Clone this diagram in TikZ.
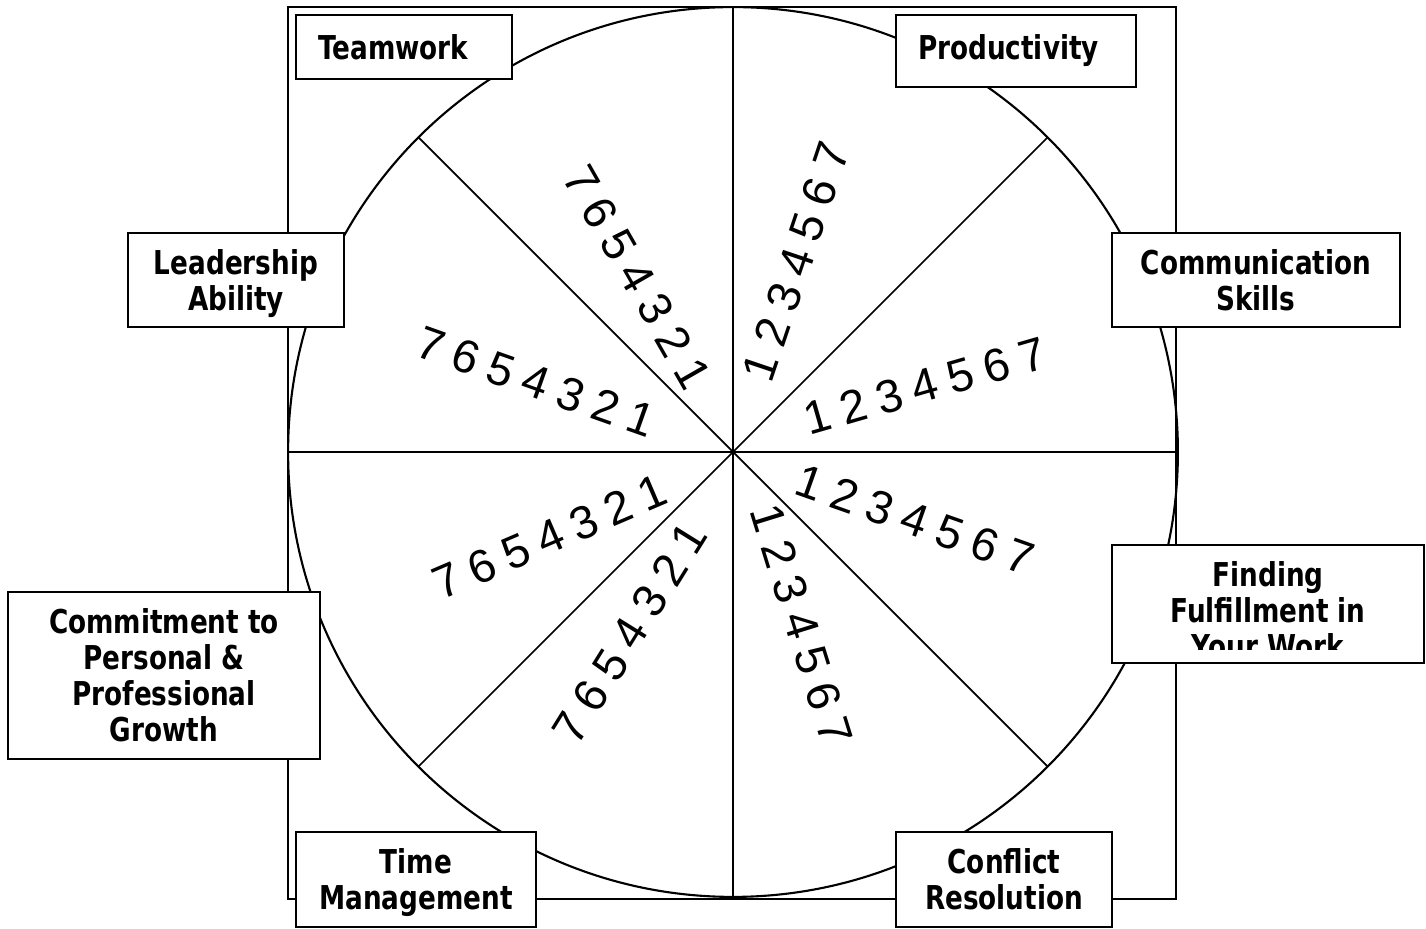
\documentclass[tikz,border=0pt]{standalone}
\usepackage{fontspec}
\usepackage{tikz}
\usetikzlibrary{positioning}
\newfontfamily\labelfont[FakeStretch=0.8]{DejaVu Sans}
\newfontfamily\digitfont[WordSpace=0.87]{Liberation Sans}

\begin{document}
\begin{tikzpicture}[x = 0.02cm, y = 0.02cm]
		\tikzstyle{labeltext} = [align = center, inner sep = 0pt, font = \labelfont\bfseries\fontsize{18.7}{20.5}\selectfont];
		\tikzstyle{labelbox} = [labeltext, rectangle, draw, fill = white, line width = 1.6pt];
		\tikzstyle{digitrow} = [inner sep = 0pt, font = \digitfont\fontsize{26.5}{30}\selectfont];
		\tikzstyle{wheel} = [draw, line width = 1.2pt];
		\useasboundingbox (0,0) rectangle (1426,929);
		% frame, wheel and spokes
		\path [wheel] (288,30) rectangle (1176,922);
		\coordinate (c) at (733,477);
		\path [wheel] (c) circle [radius = 8.9cm];
		\foreach \a in {0,45,...,315}
			\path (c) ++(\a:8.9cm) coordinate (rim\a);
		\foreach \a/\b in {0/180, 45/225, 90/270, 135/315}
			\path [wheel, line width = 1pt] (rim\a) -- (rim\b);
		% scales
		\node (rowa) [digitrow, rotate = 71.4] at (796,667) {1 2 3 4 5 6 7};
		\node (rowb) [digitrow, rotate = 16.1] at (925,543) {1 2 3 4 5 6 7};
		\node (rowc) [digitrow, rotate = -19.4] at (915,409) {1 2 3 4 5 6 7};
		\node (rowd) [digitrow, rotate = -72.8] at (802,304) {1 2 3 4 5 6 7};
		\node (rowe) [digitrow, rotate = 58.1] at (630,296) {7 6 5 4 3 2 1};
		\node (rowf) [digitrow, rotate = 23.2] at (550,392) {7 6 5 4 3 2 1};
		\node (rowg) [digitrow, rotate = -19.5] at (536,547) {7 6 5 4 3 2 1};
		\node (rowh) [digitrow, rotate = -60.2] at (637,652) {7 6 5 4 3 2 1};
		% labels
		\node (teamwork) [labelbox, align = left, text width = 3.44cm, inner xsep = 0.44cm, minimum height = 1.28cm] at (404,882) {Teamwork};
		\node (productivity) [labelbox, align = left, text width = 3.92cm, inner xsep = 0.44cm, minimum height = 1.44cm] at (1016,878) {Productivity};
		\node (leadership) [labelbox, minimum width = 4.32cm, minimum height = 1.88cm, text depth = 0pt] at (236,649) {Leadership\\Ability};
		\node (communication) [labelbox, minimum width = 5.76cm, minimum height = 1.88cm] at (1256,649) {Communication\\Skills};
		\node (finding) [labelbox, minimum width = 6.24cm, minimum height = 2.36cm] at (1268,325) {};
		\begin{scope}
			\clip ([yshift = 0.3cm]finding.south west) rectangle (finding.north east);
			\node (findingtext) [labeltext, anchor = north] at (1268,368) {Finding\\Fulfillment in\\Your Work};
		\end{scope}
		\node (commitment) [labelbox, minimum width = 6.24cm, minimum height = 3.34cm] at (164,253.5) {Commitment to\\Personal \&\\Professional\\Growth};
		\node (time) [labelbox, minimum width = 4.8cm, minimum height = 1.9cm, text depth = 0pt] at (416,49.5) {Time\\Management};
		\node (conflict) [labelbox, minimum width = 4.32cm, minimum height = 1.9cm] at (1004,49.5) {Conflict\\Resolution};
	\end{tikzpicture}
\end{document}
